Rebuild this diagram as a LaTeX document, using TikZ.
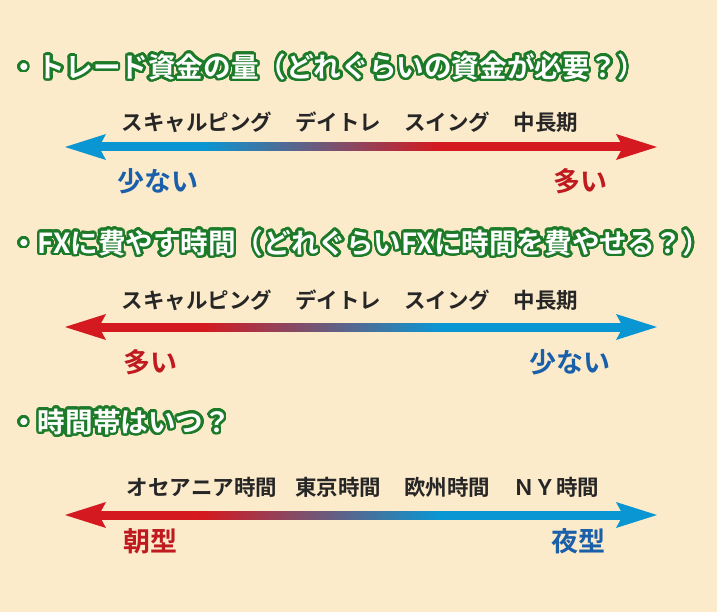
\documentclass[tikz,border=0pt]{standalone}
\usepackage{fontspec}
\setmainfont{Noto Sans CJK JP Bold}
\usepackage{contour}
\contourlength{2.5pt}
\contournumber{32}
\definecolor{bg}{HTML}{FCEBCB}
\definecolor{cblue}{HTML}{0A96D2}
\definecolor{cred}{HTML}{D41920}
\definecolor{tblue}{HTML}{1A5FAA}
\definecolor{tred}{HTML}{BF1A20}
\definecolor{hgreen}{HTML}{1C7A28}
\pgfdeclarehorizontalshading{bluered}{100bp}{color(0bp)=(cblue); color(36bp)=(cblue); color(57bp)=(cred); color(100bp)=(cred)}
\pgfdeclarehorizontalshading{redblue}{100bp}{color(0bp)=(cred); color(36bp)=(cred); color(57bp)=(cblue); color(100bp)=(cblue)}
\tikzset{
 head/.style={font=\fontsize{27.6}{30}\selectfont, anchor=west, inner sep=0},
 sub/.style={font=\fontsize{21.5}{24}\selectfont, text=black!85, inner sep=0},
 end/.style={font=\fontsize{27}{30}\selectfont, inner sep=0},
}
\newcommand{\myarrow}[4]{% y, shading, left colour, right colour
 \shade[shading=#2] (80,#1-4) rectangle (640,#1+4);
 \fill[#3] (65,#1) -- (106,#1-13) -- (99,#1) -- (106,#1+13) -- cycle;
 \fill[#4] (657,#1) -- (616,#1-13) -- (623,#1) -- (616,#1+13) -- cycle;
}
\begin{document}
\begin{tikzpicture}[x=1pt,y=-1pt]
\fill[bg] (0,0) rectangle (717,612);
\useasboundingbox (0,0) rectangle (717,612);
\node[head] (h1) at (10,68) {\contour{hgreen}{\textcolor{white}{・トレード資金の量（どれぐらいの資金が必要？）}}};
\node[head] (h2) at (10,244) {\contour{hgreen}{\textcolor{white}{・FXに費やす時間（どれぐらいFXに時間を費やせる？）}}};
\node[head] (h3) at (10,423) {\contour{hgreen}{\textcolor{white}{・時間帯はいつ？}}};
\myarrow{147}{bluered}{cblue}{cred}
\myarrow{327}{redblue}{cred}{cblue}
\myarrow{515}{redblue}{cred}{cblue}
\foreach \y/\n in {122/a,300/b}{
 \node[sub] (s1\n) at (197,\y) {スキャルピング};
 \node[sub] (s2\n) at (338,\y) {デイトレ};
 \node[sub] (s3\n) at (447,\y) {スイング};
 \node[sub] (s4\n) at (546,\y) {中長期};
}
\node[sub] (t1) at (202,487) {オセアニア時間};
\node[sub] (t2) at (338,487) {東京時間};
\node[sub] (t3) at (447,487) {欧州時間};
\node[sub] (t4) at (556,487) {ＮＹ時間};
\node[end,text=tblue] (e1) at (158,181) {少ない};
\node[end,text=tred] (e2) at (580,181) {多い};
\node[end,text=tred] (e3) at (150,362) {多い};
\node[end,text=tblue] (e4) at (570,362) {少ない};
\node[end,text=tred] (e5) at (150,541) {朝型};
\node[end,text=tblue] (e6) at (578,541) {夜型};
\end{tikzpicture}
\end{document}
